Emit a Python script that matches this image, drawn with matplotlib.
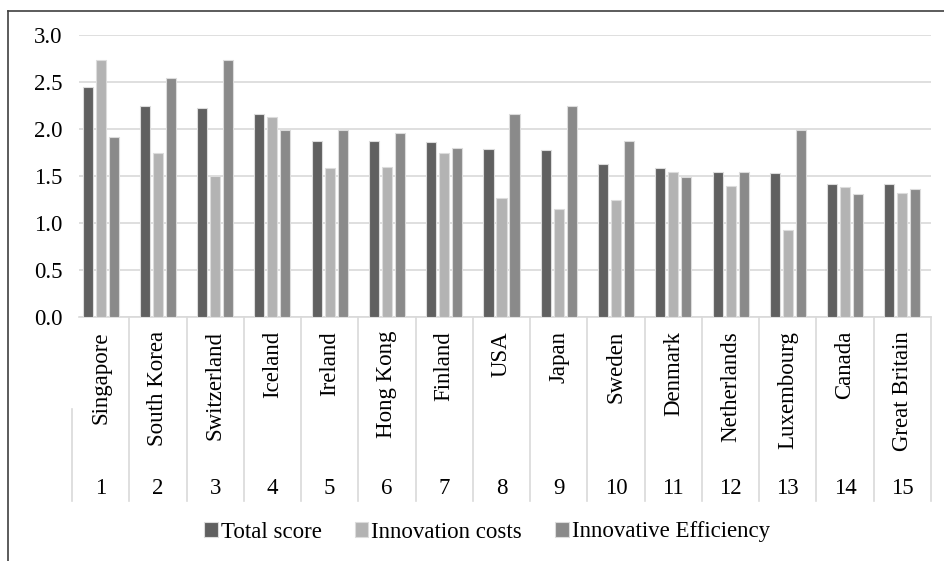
import numpy as np
import matplotlib
matplotlib.use("Agg")
import matplotlib.pyplot as plt
from matplotlib.lines import Line2D
from matplotlib.transforms import blended_transform_factory

countries = ["Singapore", "South Korea", "Switzerland", "Iceland", "Ireland",
             "Hong Kong", "Finland", "USA", "Japan", "Sweden", "Denmark",
             "Netherlands", "Luxembourg", "Canada", "Great Britain"]
ranks = [str(i) for i in range(1, 16)]
total_score = [2.45, 2.25, 2.22, 2.16, 1.87, 1.87, 1.86, 1.79, 1.78, 1.63,
               1.59, 1.54, 1.53, 1.41, 1.41]
innovation_costs = [2.73, 1.74, 1.50, 2.13, 1.58, 1.60, 1.75, 1.27, 1.15, 1.24,
                    1.54, 1.39, 0.93, 1.38, 1.32]
innovative_eff = [1.92, 2.54, 2.73, 1.99, 1.99, 1.96, 1.80, 2.16, 2.24, 1.87,
                  1.49, 1.54, 1.99, 1.31, 1.36]

plt.rcParams["font.family"] = ["Liberation Serif", "DejaVu Serif"]
FS = 16.5
GRID = "#d9d9d9"

W, H = 945, 561
fig = plt.figure(figsize=(W / 100, H / 100), dpi=100)
# plot area in pixels: x 79..931, y 35..317
ax = fig.add_axes([79 / W, 1 - 317 / H, (931 - 79) / W, (317 - 35) / H])

x = np.arange(len(countries))
bw, off = 0.175, 0.227
series = [(total_score, "#606060", "Total score"),
          (innovation_costs, "#b3b3b3", "Innovation costs"),
          (innovative_eff, "#8a8a8a", "Innovative Efficiency")]
for k, (vals, col, lab) in enumerate(series):
    ax.bar(x + (k - 1) * off, vals, bw, color=col, edgecolor="#dcdcdc",
           linewidth=0.8, label=lab, zorder=3)

# category width is 57.3 px, the first boundary sits 7 px left of the grid
ax.set_xlim(-0.5 + 7 / 57.3, 14.5)
ax.set_ylim(0, 3.0)
ax.set_yticks(np.arange(0, 3.01, 0.5))
ax.set_yticklabels(["%.1f" % v for v in np.arange(0, 3.01, 0.5)], fontsize=FS)
ax.tick_params(axis="y", length=0, pad=12)
ax.set_xticks([])
ax.yaxis.grid(True, color=GRID, linewidth=1.2, zorder=0)
for s in ("top", "right", "left"):
    ax.spines[s].set_visible(False)
ax.spines["bottom"].set_color(GRID)
ax.spines["bottom"].set_linewidth(1.2)

# two-level category axis below the plot
tr = blended_transform_factory(ax.transData, ax.transAxes)
ph = 317 - 35
y_sep_end = -(501 - 317) / ph
for b in np.arange(0.5, 15, 1.0):
    ax.plot([b, b], [0, y_sep_end], color=GRID, lw=1.2, transform=tr, clip_on=False)
ax.plot([-0.5, -0.5], [-(409 - 317) / ph, y_sep_end], color=GRID, lw=1.2,
        transform=tr, clip_on=False)
for i, (c, r) in enumerate(zip(countries, ranks)):
    ax.text(i, -(331 - 317) / ph, c, rotation=90, ha="center", va="top",
            fontsize=FS, transform=tr)
    ax.text(i, -(488 - 317) / ph, r, ha="center", va="center", fontsize=FS,
            transform=tr)

leg = fig.legend(loc="center", bbox_to_anchor=(487 / W, 1 - 532 / H), ncol=3,
                 frameon=False, fontsize=FS, handlelength=0.6, handleheight=0.6,
                 handletextpad=0.12, columnspacing=1.45, borderpad=0)

# outer chart frame (top and left edges visible)
fig.add_artist(Line2D([8 / W, 1], [1 - 10.5 / H, 1 - 10.5 / H], color="#404040", lw=1.2))
fig.add_artist(Line2D([8 / W, 8 / W], [0, 1 - 10.5 / H], color="#404040", lw=1.2))

fig.savefig("out.png", dpi=100)
